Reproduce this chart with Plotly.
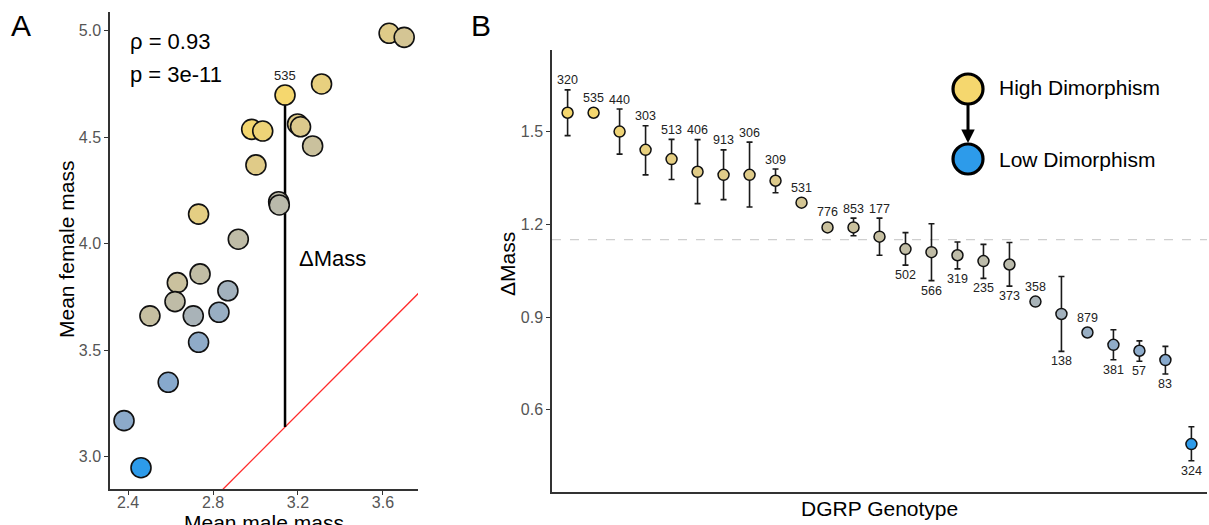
import numpy as np
import plotly.graph_objects as go

# ---------------- data ----------------
# Panel A: mean male / female mass per DGRP line
male_mass = [3.629, 3.700, 3.139, 3.311, 2.982, 3.034, 3.198, 3.212, 3.269, 3.002,
             3.109, 3.112, 2.732, 2.919, 2.739, 2.632, 2.621, 2.870, 2.503, 2.707,
             2.828, 2.732, 2.589, 2.381, 2.461]
female_mass = [4.988, 4.969, 4.698, 4.750, 4.537, 4.529, 4.562, 4.549, 4.459, 4.370,
               4.197, 4.182, 4.139, 4.021, 3.858, 3.817, 3.728, 3.779, 3.661, 3.661,
               3.678, 3.537, 3.349, 3.169, 2.948]
highlight_index = 2          # line 535
highlight_label = "535"
rho_text = "ρ = 0.93"
p_text = "p = 3e-11"

# Panel B: delta mass per genotype
genotypes = ["320", "535", "440", "303", "513", "406", "913", "306", "309", "531",
             "776", "853", "177", "502", "566", "319", "235", "373", "358", "138",
             "879", "381", "57", "83", "324"]
delta = [1.561, 1.561, 1.500, 1.441, 1.411, 1.370, 1.360, 1.360, 1.341, 1.270,
         1.190, 1.190, 1.160, 1.120, 1.110, 1.100, 1.081, 1.070, 0.950, 0.910,
         0.850, 0.810, 0.791, 0.761, 0.489]
upper = [1.635, None, 1.573, 1.519, 1.475, 1.474, 1.441, 1.466, 1.379, None,
         None, 1.220, 1.220, 1.173, 1.202, 1.143, 1.135, 1.141, None, 1.031,
         None, 0.859, 0.823, 0.805, 0.545]
lower = [1.487, None, 1.427, 1.360, 1.345, 1.267, 1.280, 1.256, 1.302, None,
         None, 1.163, 1.100, 1.068, 1.018, 1.056, 1.025, 1.000, None, 0.789,
         None, 0.762, 0.757, 0.716, 0.435]
label_side = ["above"] * 13 + ["below"] * 5 + ["above", "below", "above",
                                                "below", "below", "below", "below"]

xA_ticks = [2.4, 2.8, 3.2, 3.6]
yA_ticks = [3.0, 3.5, 4.0, 4.5, 5.0]
yB_ticks = [0.6, 0.9, 1.2, 1.5]

# ---------------- styling ----------------
FONT = "Liberation Sans, Arial, sans-serif"
LOW_COL = "#2D9BEA"
HIGH_COL = "#F5D76E"
W, H = 1209, 525


def _hex2rgb(h):
    h = h.lstrip("#")
    return np.array([int(h[i:i + 2], 16) for i in (0, 2, 4)]) / 255.0


def _rgb2lab(rgb):
    c = np.where(rgb > 0.04045, ((rgb + 0.055) / 1.055) ** 2.4, rgb / 12.92)
    M = np.array([[0.4124, 0.3576, 0.1805], [0.2126, 0.7152, 0.0722], [0.0193, 0.1192, 0.9505]])
    xyz = M @ c / np.array([0.95047, 1.0, 1.08883])
    f = np.where(xyz > 0.008856, np.cbrt(xyz), 7.787 * xyz + 16 / 116)
    return np.array([116 * f[1] - 16, 500 * (f[0] - f[1]), 200 * (f[1] - f[2])])


def _lab2rgb(lab):
    L, a, b = lab
    fy = (L + 16) / 116
    fx = fy + a / 500
    fz = fy - b / 200
    f = np.array([fx, fy, fz])
    xyz = np.where(f ** 3 > 0.008856, f ** 3, (f - 16 / 116) / 7.787) * np.array([0.95047, 1.0, 1.08883])
    Mi = np.array([[3.2406, -1.5372, -0.4986], [-0.9689, 1.8758, 0.0415], [0.0557, -0.2040, 1.0570]])
    c = Mi @ xyz
    c = np.where(c > 0.0031308, 1.055 * np.clip(c, 0, None) ** (1 / 2.4) - 0.055, 12.92 * c)
    c = np.clip(c, 0, 1)
    return "rgb({},{},{})".format(*[int(round(v * 255)) for v in c])


LAB_LO, LAB_HI = _rgb2lab(_hex2rgb(LOW_COL)), _rgb2lab(_hex2rgb(HIGH_COL))
dmin, dmax = min(delta), max(delta)


def colour(d):
    t = float(np.clip((d - dmin) / (dmax - dmin), 0, 1))
    return _lab2rgb(LAB_LO + t * (LAB_HI - LAB_LO))


# ---------------- figure ----------------
fig = go.Figure()

# layout geometry (pixels)
A_left, A_right, A_top, A_bottom = 110, 418, 12, 489
B_left, B_right, B_top, B_bottom = 552, 1207, 50, 492

xA_range = [2.315, 3.765]
yA_range = [2.848, 5.088]
yB_range = [0.334, 1.764]
xB_range = [0.4, len(genotypes) + 0.6]

# ---- Panel A ----
lo_id = min(xA_range[0], yA_range[0]) - 0.5
hi_id = max(xA_range[1], yA_range[1]) + 0.5
fig.add_trace(go.Scatter(x=[lo_id, hi_id], y=[lo_id, hi_id], mode="lines",
                         line=dict(color="#FF2A2A", width=1.3),
                         xaxis="x", yaxis="y", showlegend=False, hoverinfo="skip"))
mx, fy = male_mass[highlight_index], female_mass[highlight_index]
fig.add_trace(go.Scatter(x=[mx, mx], y=[mx, fy], mode="lines",
                         line=dict(color="black", width=2.5),
                         xaxis="x", yaxis="y", showlegend=False, hoverinfo="skip"))
dA = [f - m for f, m in zip(female_mass, male_mass)]
fig.add_trace(go.Scatter(x=male_mass, y=female_mass, mode="markers",
                         marker=dict(size=20, color=[colour(d) for d in dA],
                                     line=dict(color="#111111", width=1.6)),
                         xaxis="x", yaxis="y", showlegend=False))

# ---- Panel B ----
xpos = list(range(1, len(genotypes) + 1))
err_idx = [i for i in range(len(genotypes)) if upper[i] is not None]
fig.add_trace(go.Scatter(
    x=[xpos[i] for i in err_idx], y=[delta[i] for i in err_idx], mode="markers",
    marker=dict(size=2, opacity=0),
    error_y=dict(type="data", symmetric=False,
                 array=[upper[i] - delta[i] for i in err_idx],
                 arrayminus=[delta[i] - lower[i] for i in err_idx],
                 color="#1a1a1a", thickness=1.6, width=3),
    xaxis="x2", yaxis="y2", showlegend=False, hoverinfo="skip"))
fig.add_trace(go.Scatter(x=xpos, y=delta, mode="markers",
                         marker=dict(size=11, color=[colour(d) for d in delta],
                                     line=dict(color="#111111", width=1.5)),
                         text=genotypes, xaxis="x2", yaxis="y2", showlegend=False))

mean_delta = float(np.mean(delta))
fig.add_shape(type="line", xref="x2", yref="y2", x0=xB_range[0], x1=xB_range[1],
              y0=mean_delta, y1=mean_delta, layer="below",
              line=dict(color="#CFCFCF", width=1.2, dash="dash"))

annotations = []
for i, g in enumerate(genotypes):
    has_err = upper[i] is not None
    if label_side[i] == "above":
        yv = upper[i] if has_err else delta[i]
        ys = 9.5 if has_err else 15
    else:
        yv = lower[i] if has_err else delta[i]
        ys = -(10 if has_err else 15)
    annotations.append(dict(x=xpos[i], y=yv, xref="x2", yref="y2", text=g,
                            showarrow=False, yshift=ys,
                            font=dict(size=12.5, color="#222222", family=FONT)))

# annotations in panel A
annotations.append(dict(x=mx, y=fy, xref="x", yref="y", text=highlight_label,
                        showarrow=False, yshift=20,
                        font=dict(size=13, color="#222222", family=FONT)))


def px(xp):
    return xp / W


def py(yp):
    return 1 - yp / H


txt = dict(size=22, color="black", family=FONT)
annotations += [
    dict(x=px(128), y=py(42), xref="paper", yref="paper", text=rho_text,
         xanchor="left", yanchor="middle", showarrow=False, font=txt),
    dict(x=px(128), y=py(75), xref="paper", yref="paper", text=p_text,
         xanchor="left", yanchor="middle", showarrow=False, font=txt),
    dict(x=px(297), y=py(258), xref="paper", yref="paper", text="ΔMass",
         xanchor="left", yanchor="middle", showarrow=False, font=txt),
    dict(x=px(21), y=py(25), xref="paper", yref="paper", text="A",
         xanchor="center", yanchor="middle", showarrow=False,
         font=dict(size=30, color="black", family=FONT)),
    dict(x=px(481), y=py(25), xref="paper", yref="paper", text="B",
         xanchor="center", yanchor="middle", showarrow=False,
         font=dict(size=30, color="black", family=FONT)),
    # axis titles
    dict(x=px(66), y=py(250), xref="paper", yref="paper", text="Mean female mass",
         textangle=-90, xanchor="center", yanchor="middle", showarrow=False,
         font=dict(size=21, color="black", family=FONT)),
    dict(x=px((A_left + A_right) / 2), y=py(509), xref="paper", yref="paper",
         text="Mean male mass", xanchor="center", yanchor="top", showarrow=False,
         font=dict(size=21, color="black", family=FONT)),
    dict(x=px(507), y=py(264), xref="paper", yref="paper", text="ΔMass",
         textangle=-90, xanchor="center", yanchor="middle", showarrow=False,
         font=dict(size=21, color="black", family=FONT)),
    dict(x=px((B_left + B_right) / 2), y=py(508), xref="paper", yref="paper",
         text="DGRP Genotype", xanchor="center", yanchor="middle", showarrow=False,
         font=dict(size=21, color="black", family=FONT)),
    # legend text
    dict(x=px(997), y=py(88), xref="paper", yref="paper", text="High Dimorphism",
         xanchor="left", yanchor="middle", showarrow=False,
         font=dict(size=21, color="black", family=FONT)),
    dict(x=px(997), y=py(159), xref="paper", yref="paper", text="Low Dimorphism",
         xanchor="left", yanchor="middle", showarrow=False,
         font=dict(size=21, color="black", family=FONT)),
    # legend arrow
    dict(x=px(968), y=py(143), xref="paper", yref="paper", text="",
         showarrow=True, ax=0, ay=-40, axref="pixel", ayref="pixel",
         arrowhead=2, arrowsize=0.9, arrowwidth=3, arrowcolor="black",
         standoff=0, startstandoff=0),
]

# legend circles
for cy, col in ((89, HIGH_COL), (159, LOW_COL)):
    r = 15
    fig.add_shape(type="circle", xref="paper", yref="paper",
                  x0=px(968 - r), x1=px(968 + r), y0=py(cy + r), y1=py(cy - r),
                  fillcolor=col, line=dict(color="black", width=3.2))

axis_common = dict(showgrid=False, zeroline=False, showline=True,
                   linecolor="#333333", linewidth=1.5, ticks="outside",
                   ticklen=4, tickcolor="#333333", tickwidth=1.2,
                   tickfont=dict(size=16, color="#555555", family=FONT))

fig.update_layout(
    width=W, height=H, margin=dict(l=0, r=0, t=0, b=0),
    paper_bgcolor="white", plot_bgcolor="white", showlegend=False,
    xaxis=dict(domain=[px(A_left), px(A_right)], range=xA_range, anchor="y",
               tickvals=xA_ticks, ticktext=[f"{v:.1f}" for v in xA_ticks],
               ticklabelstandoff=-6, **axis_common),
    yaxis=dict(domain=[py(A_bottom), py(A_top)], range=yA_range, anchor="x",
               tickvals=yA_ticks, ticktext=[f"{v:.1f}" for v in yA_ticks], **axis_common),
    xaxis2=dict(domain=[px(B_left), px(B_right)], range=xB_range, anchor="y2",
                showgrid=False, zeroline=False, showline=True, linecolor="#333333",
                linewidth=1.5, ticks="", showticklabels=False),
    yaxis2=dict(domain=[py(B_bottom), py(B_top)], range=yB_range, anchor="x2",
                tickvals=yB_ticks, ticktext=[f"{v:.1f}" for v in yB_ticks], **axis_common),
    annotations=annotations,
)

fig.write_html("out.html")
